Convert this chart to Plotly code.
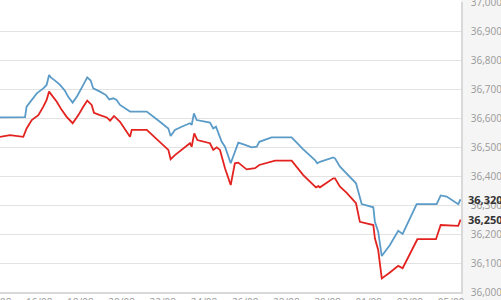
import plotly.graph_objects as go

# Blue series (time, value)
blue_t = ["2015-08-14 02:20", "2015-08-15 07:30", "2015-08-15 09:20", "2015-08-15 15:20", "2015-08-15 21:10",
          "2015-08-16 04:50", "2015-08-16 08:40", "2015-08-16 11:30", "2015-08-16 13:30", "2015-08-16 18:30",
          "2015-08-17 00:20", "2015-08-17 06:00", "2015-08-17 09:50", "2015-08-17 15:00", "2015-08-17 20:20",
          "2015-08-18 03:20", "2015-08-18 08:00", "2015-08-18 12:00", "2015-08-18 15:00", "2015-08-18 22:50",
          "2015-08-19 05:50", "2015-08-19 09:40", "2015-08-19 14:20", "2015-08-19 18:10", "2015-08-19 22:10",
          "2015-08-20 09:50", "2015-08-21 05:20", "2015-08-21 20:40", "2015-08-22 06:30", "2015-08-22 09:10",
          "2015-08-22 14:10", "2015-08-22 22:00", "2015-08-23 07:40", "2015-08-23 09:40", "2015-08-23 12:20",
          "2015-08-23 15:30", "2015-08-23 19:20", "2015-08-24 07:00", "2015-08-24 10:50", "2015-08-24 14:00",
          "2015-08-24 20:40", "2015-08-25 00:30", "2015-08-25 07:10", "2015-08-25 11:00", "2015-08-25 16:00",
          "2015-08-25 23:50", "2015-08-26 07:40", "2015-08-26 13:30", "2015-08-26 16:30", "2015-08-27 06:50",
          "2015-08-28 06:10", "2015-08-28 19:40", "2015-08-29 09:20", "2015-08-29 12:00", "2015-08-29 15:10",
          "2015-08-30 06:40", "2015-08-30 08:40", "2015-08-30 14:30", "2015-08-30 20:10", "2015-08-31 02:10",
          "2015-08-31 09:10", "2015-08-31 15:50", "2015-09-01 05:20", "2015-09-01 07:10", "2015-09-01 11:00",
          "2015-09-01 15:10", "2015-09-02 00:40", "2015-09-02 10:20", "2015-09-02 15:30", "2015-09-03 07:50",
          "2015-09-04 07:10", "2015-09-04 11:50", "2015-09-04 18:50", "2015-09-05 08:20", "2015-09-05 11:00"]
blue_v = [36602, 36603, 36639, 36664, 36685,
          36702, 36714, 36748, 36740, 36729,
          36714, 36694, 36673, 36653, 36676,
          36714, 36740, 36729, 36702, 36691,
          36679, 36664, 36668, 36662, 36645,
          36622, 36622, 36587, 36564, 36538,
          36559, 36570, 36582, 36576, 36616,
          36593, 36591, 36584, 36564, 36570,
          36518, 36501, 36444, 36478, 36515,
          36507, 36499, 36501, 36518, 36533,
          36533, 36492, 36455, 36444, 36449,
          36464, 36461, 36432, 36415, 36395,
          36375, 36303, 36292, 36242, 36208,
          36124, 36162, 36211, 36200, 36303,
          36303, 36333, 36329, 36303, 36320]

# Red series (time, value)
red_t = ["2015-08-14 02:20", "2015-08-14 14:00", "2015-08-15 05:30", "2015-08-15 09:20", "2015-08-15 15:20",
         "2015-08-15 23:00", "2015-08-16 04:50", "2015-08-16 08:40", "2015-08-16 11:30", "2015-08-16 14:40",
         "2015-08-16 20:30", "2015-08-17 02:10", "2015-08-17 08:00", "2015-08-17 15:00", "2015-08-17 21:40",
         "2015-08-18 03:20", "2015-08-18 08:00", "2015-08-18 13:10", "2015-08-18 15:50", "2015-08-18 22:50",
         "2015-08-19 06:40", "2015-08-19 10:40", "2015-08-19 15:10", "2015-08-19 22:10", "2015-08-20 07:50",
         "2015-08-20 09:50", "2015-08-20 11:50", "2015-08-21 05:20", "2015-08-22 06:30", "2015-08-22 09:10",
         "2015-08-22 14:10", "2015-08-22 22:00", "2015-08-23 07:40", "2015-08-23 09:40", "2015-08-23 12:40",
         "2015-08-23 16:20", "2015-08-24 07:00", "2015-08-24 10:50", "2015-08-24 14:50", "2015-08-24 18:40",
         "2015-08-25 00:30", "2015-08-25 07:10", "2015-08-25 12:00", "2015-08-25 16:00", "2015-08-26 01:40",
         "2015-08-26 11:30", "2015-08-26 16:30", "2015-08-27 10:50", "2015-08-28 06:10", "2015-08-28 19:40",
         "2015-08-29 10:30", "2015-08-29 13:10", "2015-08-29 15:10", "2015-08-30 06:40", "2015-08-30 08:40",
         "2015-08-30 14:30", "2015-08-30 22:20", "2015-08-31 09:10", "2015-08-31 13:40", "2015-09-01 05:20",
         "2015-09-01 07:10", "2015-09-01 11:00", "2015-09-01 15:10", "2015-09-02 00:40", "2015-09-02 10:20",
         "2015-09-02 15:30", "2015-09-03 08:40", "2015-09-04 06:20", "2015-09-04 11:50", "2015-09-05 08:20",
         "2015-09-05 11:00"]
red_v = [36535, 36541, 36535, 36564, 36593,
         36610, 36639, 36662, 36691, 36679,
         36656, 36628, 36604, 36582, 36610,
         36639, 36660, 36645, 36618, 36610,
         36602, 36591, 36607, 36587, 36547,
         36535, 36559, 36559, 36490, 36458,
         36472, 36490, 36513, 36501, 36547,
         36524, 36513, 36490, 36499, 36490,
         36427, 36369, 36444, 36446, 36423,
         36427, 36438, 36453, 36453, 36403,
         36361, 36365, 36361, 36392, 36392,
         36363, 36342, 36306, 36242, 36231,
         36185, 36145, 36047, 36067, 36090,
         36082, 36182, 36182, 36231, 36228,
         36250]

x_range = ["2015-08-14 02:20", "2015-09-05 11:30"]
y_range = [36000, 37000]
last_labels = ["36,320", "36,250"]
first_date_label = "14/08"

BLUE = "#5b9bc8"
RED = "#e3231f"
FONT = "Open Sans"

fig = go.Figure()
fig.add_trace(go.Scatter(x=blue_t, y=blue_v, mode="lines",
                         line=dict(color=BLUE, width=1.8), hoverinfo="skip"))
fig.add_trace(go.Scatter(x=red_t, y=red_v, mode="lines",
                         line=dict(color=RED, width=1.8), hoverinfo="skip"))

# grey panel behind the right axis labels
fig.add_shape(type="rect", xref="paper", yref="paper", x0=1, x1=1.2, y0=-0.2, y1=1.2,
              fillcolor="#f5f5f5", line=dict(width=0), layer="below")

fig.add_annotation(x=1, xref="paper", y=blue_v[-1], yref="y", text="<b>" + last_labels[0] + "</b>",
                   showarrow=False, xanchor="left", yanchor="middle", xshift=5,
                   font=dict(family=FONT, size=11, color="#333"))
fig.add_annotation(x=1, xref="paper", y=red_v[-1], yref="y", text="<b>" + last_labels[1] + "</b>",
                   showarrow=False, xanchor="left", yanchor="middle", xshift=5,
                   font=dict(family=FONT, size=11, color="#333"))
# partially visible first date label at the left edge
fig.add_annotation(x=0, xref="paper", y=0, yref="paper", text=first_date_label,
                   showarrow=False, xanchor="center", yanchor="top", xshift=-2, yshift=-1,
                   font=dict(family=FONT, size=10, color="#999"))

fig.update_layout(
    width=501, height=300,
    margin=dict(l=0, r=40, t=2, b=8),
    paper_bgcolor="white", plot_bgcolor="white",
    showlegend=False,
    font=dict(family=FONT, size=10, color="#999"),
    xaxis=dict(type="date", range=x_range, tick0="2015-08-14", dtick=2 * 86400000,
               tickformat="%d/%m", showgrid=False, showline=True, linecolor="#d9d9d9",
               linewidth=1.5, ticks="", zeroline=False, automargin=False,
               ticklabeloverflow="allow",
               tickfont=dict(family=FONT, size=10, color="#999")),
    yaxis=dict(side="right", range=y_range, dtick=100, tickformat=",", showgrid=True,
               gridcolor="#e3e3e3", gridwidth=1.3, showline=True, linecolor="#d9d9d9",
               linewidth=1.5, ticks="", ticklabelstandoff=6, zeroline=False, automargin=False,
               ticklabeloverflow="allow",
               tickfont=dict(family=FONT, size=10, color="#999")),
)

fig.write_html("out.html")
